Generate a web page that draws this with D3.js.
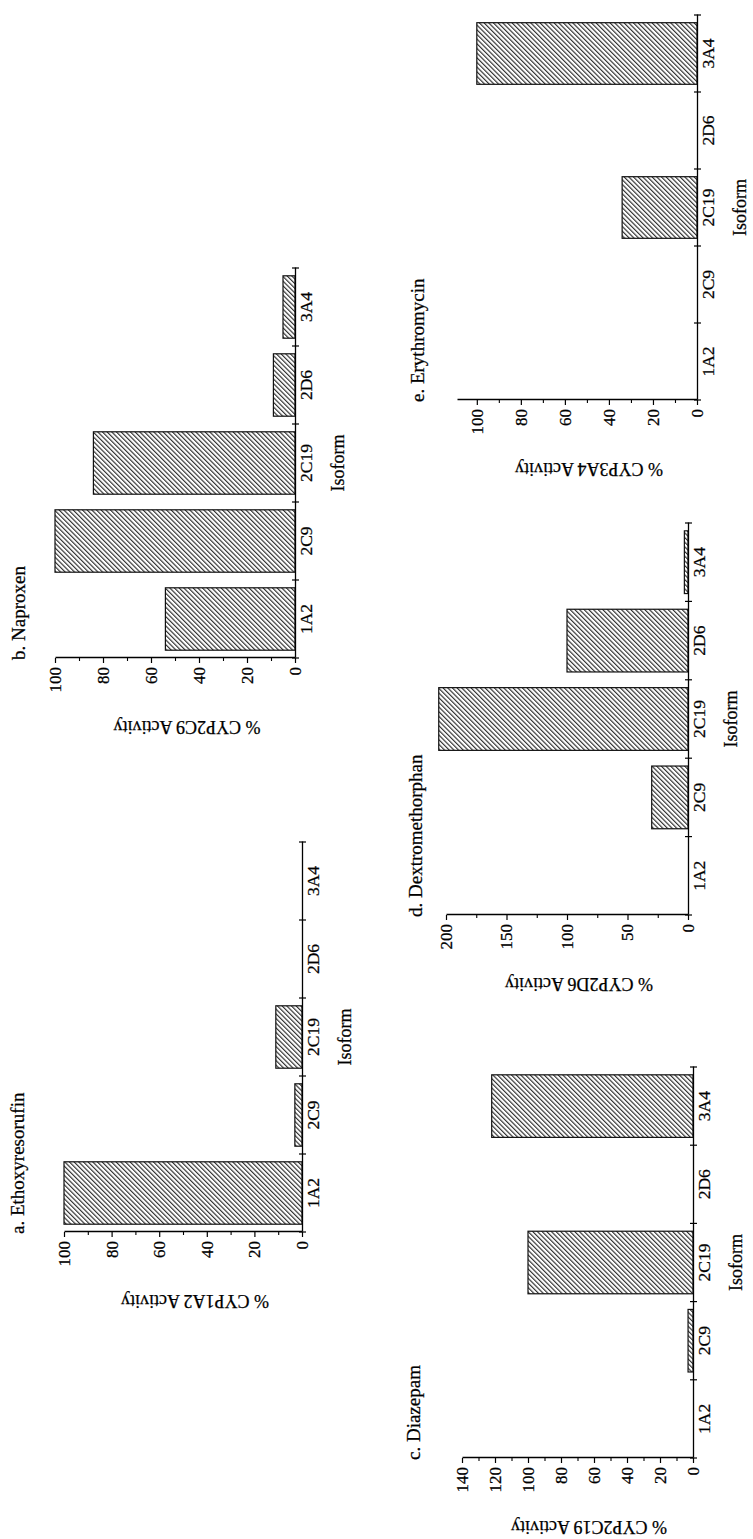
<!DOCTYPE html>
<html><head><meta charset="utf-8">
<script src="https://cdn.jsdelivr.net/npm/d3@7"></script>
<style>html,body{margin:0;padding:0;background:#fff;} svg{display:block;}</style>
</head><body>
<script>
// ---- data ----
const isoforms = ["1A2", "2C9", "2C19", "2D6", "3A4"];
const panelTitles = ["a. Ethoxyresorufin", "b. Naproxen", "c. Diazepam", "d. Dextromethorphan", "e. Erythromycin"];
const axisTitles = ["% CYP1A2 Activity", "% CYP2C9 Activity", "% CYP2C19 Activity", "% CYP2D6 Activity", "% CYP3A4 Activity"];
const xTitle = "Isoform";
const valuesA = [100, 3, 11, 0, 0];
const valuesB = [54, 100, 84, 9, 5];
const valuesC = [0, 3, 100, 0, 122];
const valuesD = [0, 30, 206, 100, 3];
const valuesE = [0, 0, 34, 0, 100];
const ticksA = [0, 20, 40, 60, 80, 100];
const ticksB = [0, 20, 40, 60, 80, 100];
const ticksC = [0, 20, 40, 60, 80, 100, 120, 140];
const ticksD = [0, 50, 100, 150, 200];
const ticksE = [0, 20, 40, 60, 80, 100];
const minorA = [10, 30, 50, 70, 90];
const minorB = [10, 30, 50, 70, 90];
const minorC = [10, 30, 50, 70, 90, 110, 130];
const minorD = [25, 75, 125, 175];
const minorE = [10, 30, 50, 70, 90];
const axisMax = [100, 100, 140, 200, 109];

// ---- layout (screen geometry, separate from data) ----
const layout = [
  {tx: 302, ty: 1232, L: 390, H: 238, titleV: -284},
  {tx: 295, ty: 658,  L: 390, H: 240, titleV: -276},
  {tx: 693, ty: 1458, L: 391, H: 231, titleV: -279},
  {tx: 688, ty: 915,  L: 392, H: 242, titleV: -272},
  {tx: 697, ty: 400,  L: 385, H: 240, titleV: -279}
];
const allValues = [valuesA, valuesB, valuesC, valuesD, valuesE];
const allTicks = [ticksA, ticksB, ticksC, ticksD, ticksE];
const allMinor = [minorA, minorB, minorC, minorD, minorE];

const FONT = "'Liberation Serif','Times New Roman',Times,serif";
const INK = "#000";
const W = 753, Ht = 1539;
const svg = d3.select("body").append("svg").attr("width", W).attr("height", Ht)
  .style("background", "#fff");

const defs = svg.append("defs");
const pat = defs.append("pattern").attr("id", "hatch")
  .attr("patternUnits", "userSpaceOnUse").attr("width", 3.3).attr("height", 3.3)
  .attr("patternTransform", "rotate(45)");
pat.append("rect").attr("width", 3.3).attr("height", 3.3).attr("fill", "#fff");
pat.append("line").attr("x1", 0.6).attr("y1", 0).attr("x2", 0.6).attr("y2", 3.3)
  .attr("stroke", "#1a1a1a").attr("stroke-width", 1.05);

function styleText(sel, size) {
  return sel.attr("font-family", FONT).attr("font-size", size).attr("fill", INK)
    .attr("stroke", INK).attr("stroke-width", 0.25);
}

allValues.forEach((vals, i) => {
  const lay = layout[i];
  const g = svg.append("g").attr("transform", `translate(${lay.tx},${lay.ty}) rotate(-90)`);
  const x = d3.scaleBand().domain(isoforms).range([0, lay.L]).padding(0);
  const y = d3.scaleLinear().domain([0, axisMax[i]]).range([0, -lay.H]);
  const bw = x.bandwidth();

  // bars
  g.selectAll("rect.bar").data(isoforms.map((c, k) => ({c, v: vals[k]})).filter(d => d.v > 0))
    .join("rect").attr("class", "bar")
    .attr("x", d => x(d.c) + bw * 0.1)
    .attr("width", bw * 0.8)
    .attr("y", d => y(d.v))
    .attr("height", d => y(0) - y(d.v))
    .attr("fill", "url(#hatch)")
    .attr("stroke", "#111").attr("stroke-width", 1.2);

  // value axis (major)
  const ay = g.append("g").call(d3.axisLeft(y).tickValues(allTicks[i]).tickSize(5).tickSizeOuter(0).tickPadding(4));
  ay.select(".domain").attr("stroke", INK).attr("stroke-width", 1.3);
  ay.selectAll(".tick line").attr("stroke", INK).attr("stroke-width", 1.2);
  styleText(ay.selectAll("text"), 17);
  // minor ticks
  const am = g.append("g").call(d3.axisLeft(y).tickValues(allMinor[i]).tickSize(3).tickSizeOuter(0).tickFormat(""));
  am.select(".domain").remove();
  am.selectAll(".tick line").attr("stroke", INK).attr("stroke-width", 1.1);

  // category axis
  const ax = g.append("g").call(d3.axisBottom(x).tickSize(0).tickSizeOuter(0).tickPadding(4));
  ax.select(".domain").attr("stroke", INK).attr("stroke-width", 1.3);
  styleText(ax.selectAll("text"), 17.5);
  ax.selectAll("text").attr("dy", null).attr("y", 17);
  const bounds = isoforms.map(c => x(c)).concat([x.range()[1]]);
  g.selectAll("line.ctick").data(bounds).join("line").attr("class", "ctick")
    .attr("x1", d => d).attr("x2", d => d).attr("y1", -3).attr("y2", 4)
    .attr("stroke", INK).attr("stroke-width", 1.2);

  // x title
  styleText(g.append("text").attr("x", lay.L / 2).attr("y", 49).attr("text-anchor", "middle"), 18)
    .text(xTitle);

  // y title
  styleText(g.append("text").attr("transform", `translate(-69,${-lay.H * 0.45}) rotate(-90)`)
    .attr("text-anchor", "middle").attr("dominant-baseline", "central"), 18)
    .text(axisTitles[i]);

  // panel title
  styleText(g.append("text").attr("x", -2).attr("y", lay.titleV + 6).attr("text-anchor", "start"), 19)
    .text(panelTitles[i]);
});
</script>
</body></html>
